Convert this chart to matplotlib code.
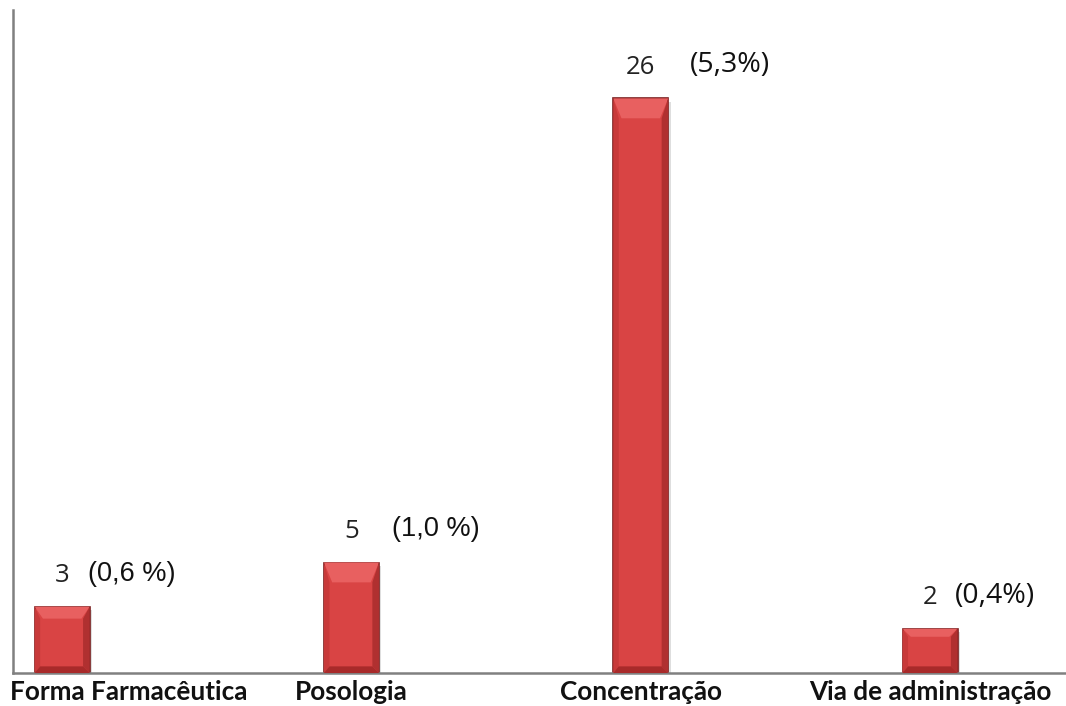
import matplotlib.pyplot as plt
import matplotlib.transforms as mtransforms
import numpy as np

categories = ["Forma Farmacêutica", "Posologia", "Concentração", "Via de administração"]
counts = [3, 5, 26, 2]
pct_labels = ["(0,6 %)", "(1,0 %)", "(5,3%)", "(0,4%)"]

# horizontal gap (px) between the count and its percentage label
pct_gap = [26, 41, 49, 25]
pct_font = ["Liberation Sans", "Liberation Sans", "Open Sans", "Open Sans"]
pct_size = [19.5, 19.5, 20.5, 20.5]

W, H, DPI = 1066, 706, 100
fig = plt.figure(figsize=(W / DPI, H / DPI), dpi=DPI)
ax = fig.add_axes([13 / W, 33 / H, (W - 13) / W, 663 / H])

x = np.arange(len(categories))
bar_w = 0.19

# soft drop shadow under each bar
ax.bar(x + 0.008, counts, bar_w, bottom=-0.15, color="#000000", alpha=0.13, zorder=1)
bars = ax.bar(x, counts, bar_w, color="#d94444", edgecolor="#7a1f1f", linewidth=1.2, zorder=2)

# bevel: lighter top band, darker sides
for b in bars:
    x0, w, h = b.get_x(), b.get_width(), b.get_height()
    bevel = min(0.9, h * 0.18)
    ax.fill([x0, x0 + w, x0 + w * 0.85, x0 + w * 0.15],
            [h, h, h - bevel, h - bevel], color="#e86060", zorder=3, lw=0)
    ax.fill([x0 + w, x0 + w, x0 + w * 0.88, x0 + w * 0.88],
            [h, 0, 0.3, h - bevel], color="#b03030", zorder=3, lw=0)
    ax.fill([x0, x0, x0 + w * 0.1, x0 + w * 0.1],
            [h, 0, 0.3, h - bevel], color="#c83a3a", zorder=3, lw=0)
    ax.fill([x0, x0 + w, x0 + w * 0.88, x0 + w * 0.1],
            [0, 0, 0.3, 0.3], color="#a82a2a", zorder=3, lw=0)

for xi, v, pct, gap, fam, fs in zip(x, counts, pct_labels, pct_gap, pct_font, pct_size):
    ax.annotate(str(v), (xi, v), xytext=(0, 31), textcoords="offset pixels",
                ha="center", va="center", fontsize=18.5, family="Open Sans", color="#222222")
    ax.annotate(pct, (xi, v), xytext=(gap, 33), textcoords="offset pixels",
                ha="left", va="center", fontsize=fs, family=fam, color="#111111")

ax.set_xlim(-0.17, 3.47)
ax.set_ylim(0, 30)

# category names under the axis, nudged inward where they would leave the figure
fig.canvas.draw()
renderer = fig.canvas.get_renderer()
trans = mtransforms.blended_transform_factory(ax.transData, ax.transAxes)
for xi, cat in zip(x, categories):
    t = ax.text(xi, -0.028, cat, transform=trans, ha="center", va="center",
                fontsize=18.8, family="Lato", fontweight="bold", color="#111111",
                clip_on=False)
    bb = t.get_window_extent(renderer)
    shift = max(0, 10 - bb.x0) - max(0, bb.x1 - (W - 10))
    if shift:
        cx = ax.transData.transform((xi, 0))[0] + shift
        t.set_x(ax.transData.inverted().transform((cx, 0))[0])

ax.set_xticks([])
ax.set_yticks([])
for s in ("top", "right"):
    ax.spines[s].set_visible(False)
for s in ("left", "bottom"):
    ax.spines[s].set_color("#808080")
    ax.spines[s].set_linewidth(1.8)

fig.savefig("out.png", dpi=DPI)
